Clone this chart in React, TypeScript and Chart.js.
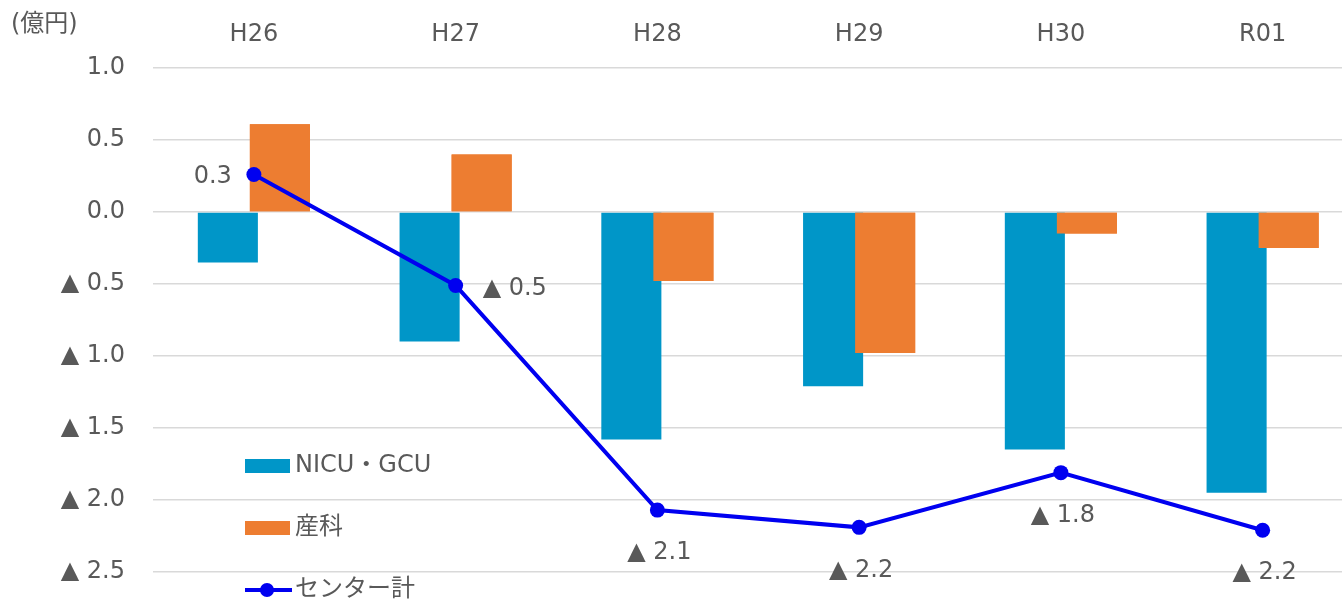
import React, { useEffect, useRef } from "react";
import { Chart, registerables } from "chart.js";

Chart.register(...registerables);

const categories = ["H26", "H27", "H28", "H29", "H30", "R01"];
const nicuValues = [-0.35, -0.9, -1.58, -1.21, -1.65, -1.95];
const obstetricsValues = [0.61, 0.4, -0.48, -0.98, -0.15, -0.25];
const centerValues = [0.26, -0.51, -2.07, -2.19, -1.81, -2.21];
const centerLabels = ["0.3", "▲ 0.5", "▲ 2.1", "▲ 2.2", "▲ 1.8", "▲ 2.2"];
const seriesNames = ["NICU・GCU", "産科", "センター計"];
const unitLabel = "(億円)";

const FONT = "'DejaVu Sans', 'Noto Sans CJK JP', sans-serif";
const FS = 24;
const TEXT = "#595959";
const BLUE_BAR = "#0096C8";
const ORANGE_BAR = "#ED7D31";
const LINE = "#0000F0";

function fmtTick(v: number): string {
  if (v < 0) return "▲ " + Math.abs(v).toFixed(1);
  return Math.abs(v).toFixed(1);
}

const overlayPlugin = {
  id: "overlay",
  beforeDatasetDraw(chart: any, args: any) {
    // draw the orange bars on top of the overlapping blue bars, below the line
    if (args.index !== 2) return;
    const ctx = chart.ctx;
    const area = chart.chartArea;
    ctx.save();
    ctx.beginPath();
    ctx.rect(area.left, area.top, area.right - area.left, area.bottom - area.top);
    ctx.clip();
    chart.getDatasetMeta(1).data.forEach((el: any) => el.draw(ctx, area));
    ctx.restore();
  },
  afterDatasetsDraw(chart: any) {
    const ctx = chart.ctx;
    const meta = chart.getDatasetMeta(2);
    ctx.save();
    ctx.font = `${FS}px ${FONT}`;
    ctx.fillStyle = TEXT;
    ctx.textBaseline = "middle";
    meta.data.forEach((pt: any, i: number) => {
      const { x, y } = pt.getProps(["x", "y"], true);
      const txt = centerLabels[i];
      if (i === 0) {
        ctx.textAlign = "right";
        ctx.fillText(txt, x - 22, y + 2);
      } else if (i === 1) {
        ctx.textAlign = "left";
        ctx.fillText(txt, x + 27, y + 3);
      } else {
        ctx.textAlign = "center";
        ctx.fillText(txt, x + 2, y + 43);
      }
    });
    ctx.restore();
  },
  afterDraw(chart: any) {
    const ctx = chart.ctx;
    ctx.save();
    ctx.font = `${FS}px ${FONT}`;
    ctx.fillStyle = TEXT;
    ctx.textBaseline = "middle";
    ctx.textAlign = "left";
    ctx.fillText(unitLabel, 11, 25);

    // legend
    const lx = 245;
    const rows = [466, 528, 590];
    ctx.fillStyle = BLUE_BAR;
    ctx.fillRect(lx, rows[0] - 7, 45, 14);
    ctx.fillStyle = ORANGE_BAR;
    ctx.fillRect(lx, rows[1] - 7, 45, 14);
    ctx.strokeStyle = LINE;
    ctx.lineWidth = 4;
    ctx.beginPath();
    ctx.moveTo(lx, rows[2]);
    ctx.lineTo(lx + 47, rows[2]);
    ctx.stroke();
    ctx.fillStyle = LINE;
    ctx.beginPath();
    ctx.arc(lx + 22, rows[2], 7, 0, Math.PI * 2);
    ctx.fill();
    ctx.fillStyle = TEXT;
    seriesNames.forEach((n, i) => {
      ctx.fillText(n, lx + 50, rows[i]);
    });
    ctx.restore();
  },
};

export default function App() {
  const ref = useRef<HTMLCanvasElement | null>(null);
  useEffect(() => {
    document.body.style.margin = "0";
    if (!ref.current) return;
    const chart = new Chart(ref.current, {
      type: "bar",
      data: {
        labels: categories,
        datasets: [
          {
            label: seriesNames[0],
            data: nicuValues,
            backgroundColor: BLUE_BAR,
            categoryPercentage: 0.516,
            barPercentage: 1.154,
            order: 1,
          } as any,
          {
            label: seriesNames[1],
            data: obstetricsValues,
            backgroundColor: ORANGE_BAR,
            categoryPercentage: 0.516,
            barPercentage: 1.154,
            order: 1,
          } as any,
          {
            type: "line",
            label: seriesNames[2],
            data: centerValues,
            borderColor: LINE,
            backgroundColor: LINE,
            borderWidth: 4,
            pointRadius: 7.5,
            pointBackgroundColor: LINE,
            pointBorderWidth: 0,
            tension: 0,
            order: 0,
          } as any,
        ],
      },
      options: {
        animation: false,
        responsive: false,
        maintainAspectRatio: false,
        layout: { padding: { left: 0, right: 0, top: 0, bottom: 31 } },
        plugins: {
          legend: { display: false },
          tooltip: { enabled: false },
        },
        scales: {
          x: {
            position: "top",
            grid: { display: false, drawTicks: false },
            border: { display: false },
            ticks: {
              color: TEXT,
              font: { size: FS, family: FONT },
              padding: 19,
            },
            afterFit(scale: any) {
              scale.height = 68;
              scale.paddingLeft = 0;
              scale.paddingRight = 0;
            },
          },
          y: {
            min: -2.5,
            max: 1.0,
            grid: { color: "#D9D9D9", lineWidth: 1.5, drawTicks: false },
            border: { display: false },
            ticks: {
              stepSize: 0.5,
              color: TEXT,
              font: { size: FS, family: FONT },
              padding: 28,
              callback: (v: any) => fmtTick(Number(v)),
            },
            afterFit(scale: any) {
              scale.width = 153;
              scale.paddingTop = 0;
              scale.paddingBottom = 0;
            },
          },
        },
      },
      plugins: [overlayPlugin],
    });
    return () => chart.destroy();
  }, []);
  return (
    <div style={{ width: 1342, height: 603, overflow: "hidden", position: "relative", background: "#fff" }}>
      <canvas ref={ref} width={1371} height={603} style={{ display: "block" }} />
    </div>
  );
}
